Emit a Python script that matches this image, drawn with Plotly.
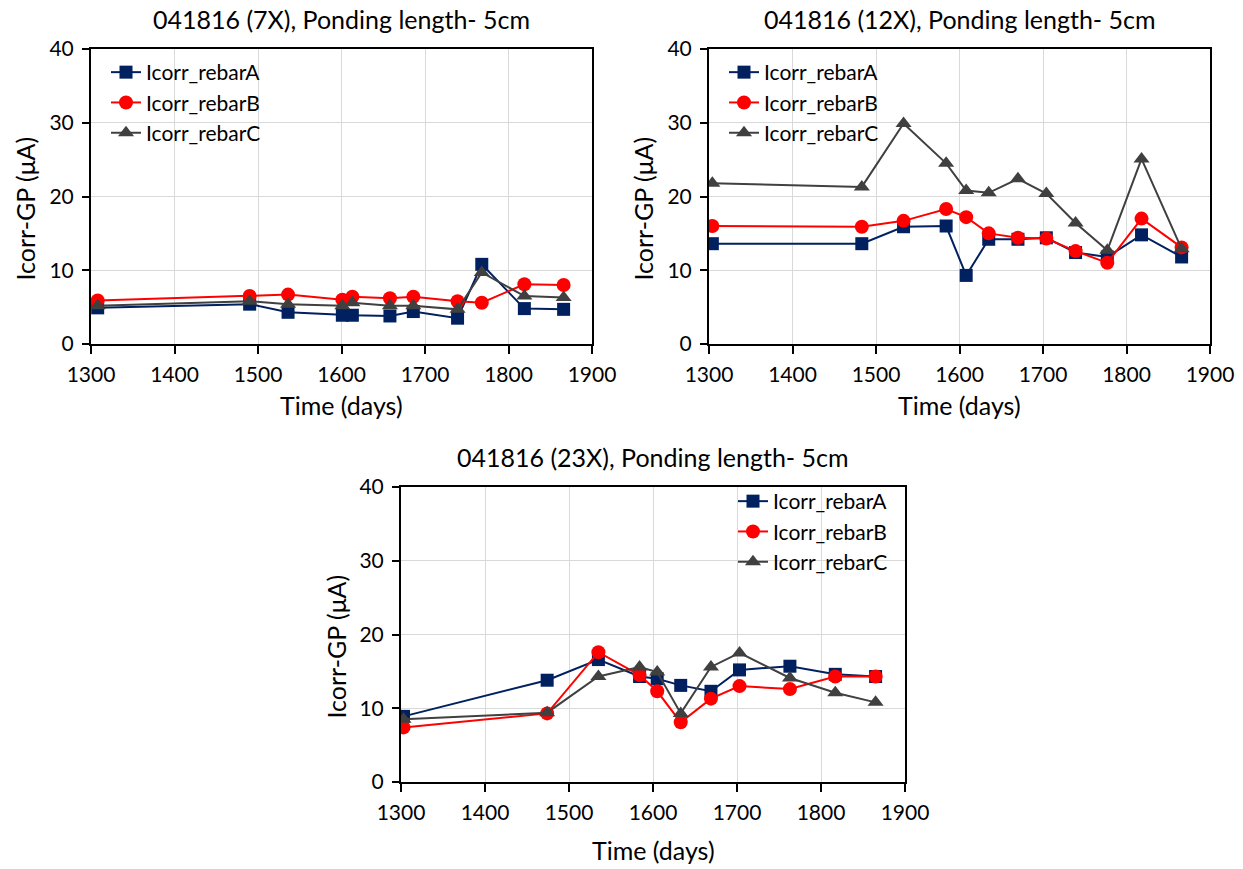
import plotly.graph_objects as go

# ---------------- data ----------------
days_7x = [1308, 1490, 1536, 1601, 1613, 1658, 1686, 1739, 1768, 1819, 1866]
rebarA_7x = [4.9, 5.4, 4.3, 3.9, 3.9, 3.8, 4.4, 3.5, 10.8, 4.8, 4.7]
rebarB_7x = [5.9, 6.5, 6.7, 6.0, 6.4, 6.2, 6.4, 5.8, 5.6, 8.1, 8.0]
rebarC_7x = [5.2, 5.8, 5.4, 5.2, 5.6, 5.2, 5.2, 4.7, 9.7, 6.5, 6.3]

days_12x = [1304, 1483, 1533, 1584, 1608, 1635, 1670, 1704, 1739, 1777, 1818, 1866]
rebarA_12x = [13.6, 13.6, 15.9, 16.0, 9.3, 14.2, 14.2, 14.4, 12.4, 11.8, 14.8, 11.8]
rebarB_12x = [16.0, 15.9, 16.7, 18.3, 17.2, 15.0, 14.4, 14.3, 12.6, 11.0, 17.0, 13.1]
rebarC_12x = [21.8, 21.3, 29.9, 24.5, 20.8, 20.5, 22.4, 20.4, 16.4, 12.7, 25.1, 12.9]

days_23x = [1303, 1474, 1535, 1584, 1605, 1633, 1669, 1703, 1763, 1817, 1865]
rebarA_23x = [8.9, 13.8, 16.6, 14.3, 14.0, 13.1, 12.3, 15.2, 15.7, 14.6, 14.3]
rebarB_23x = [7.4, 9.3, 17.6, 14.5, 12.3, 8.1, 11.3, 13.0, 12.6, 14.3, 14.3]
rebarC_23x = [8.5, 9.4, 14.3, 15.6, 14.9, 9.3, 15.6, 17.5, 14.1, 12.1, 10.8]

series_names = ["Icorr_rebarA", "Icorr_rebarB", "Icorr_rebarC"]
titles = ["041816 (7X), Ponding length- 5cm",
          "041816 (12X), Ponding length- 5cm",
          "041816 (23X), Ponding length- 5cm"]
x_title = "Time (days)"
y_title = "Icorr-GP (μA)"
x_ticks = [1300, 1400, 1500, 1600, 1700, 1800, 1900]
y_ticks = [0, 10, 20, 30, 40]

# ---------------- style ----------------
FONT = "Lato, Carlito, Calibri, sans-serif"
colors = ["#002060", "#FF0000", "#404040"]
symbols = ["square", "circle", "triangle-up"]
msizes = [13, 14, 14]

W, H = 1243, 869
def px_x(v): return v / W
def px_y(v): return 1 - v / H

panels = [
    dict(days=days_7x, vals=[rebarA_7x, rebarB_7x, rebarC_7x],
         left=91, right=592, top=49, bottom=344, leg=(106, 52), xt=61),
    dict(days=days_12x, vals=[rebarA_12x, rebarB_12x, rebarC_12x],
         left=709, right=1210, top=49, bottom=344, leg=(724, 52), xt=61),
    dict(days=days_23x, vals=[rebarA_23x, rebarB_23x, rebarC_23x],
         left=401, right=905, top=487, bottom=782, leg=(733, 481), xt=68),
]

fig = go.Figure()
layout = dict(
    width=W, height=H, margin=dict(l=0, r=0, t=0, b=0, autoexpand=False),
    paper_bgcolor="white", plot_bgcolor="white",
    font=dict(family=FONT, size=18, color="#000000"),
    annotations=[],
)

for i, p in enumerate(panels):
    n = "" if i == 0 else str(i + 1)
    xa, ya = "x" + n, "y" + n
    leg = "legend" + n
    for j in range(3):
        fig.add_trace(go.Scatter(
            x=p["days"], y=p["vals"][j], name=series_names[j],
            mode="lines+markers", xaxis=xa, yaxis=ya,
            line=dict(color=colors[j], width=2),
            marker=dict(symbol=symbols[j], size=msizes[j], color=colors[j]),
            legend=leg, legendgroup=f"{i}-{j}", showlegend=True,
        ))
    axis_common = dict(showgrid=True, gridcolor="#D9D9D9", gridwidth=1,
                       showline=True, linecolor="black", linewidth=2, mirror=True,
                       ticks="outside", tickcolor="black", tickwidth=2,
                       zeroline=False, automargin=False,
                       tickfont=dict(size=21, family=FONT))
    layout["xaxis" + n] = dict(domain=[px_x(p["left"]), px_x(p["right"])], anchor=ya,
                               range=[1300, 1900], tickvals=x_ticks,
                               ticktext=[str(t) for t in x_ticks],
                               ticklen=8, ticklabelstandoff=3, **axis_common)
    layout["yaxis" + n] = dict(domain=[px_y(p["bottom"]), px_y(p["top"])], anchor=xa,
                               range=[0, 40], tickvals=y_ticks,
                               ticktext=[str(t) for t in y_ticks],
                               ticklen=7, ticklabelstandoff=4, **axis_common)
    layout[leg] = dict(x=px_x(p["leg"][0]), y=px_y(p["leg"][1]),
                       xanchor="left", yanchor="top",
                       bgcolor="rgba(0,0,0,0)", borderwidth=0,
                       font=dict(size=21, family=FONT), tracegroupgap=0,
                       itemwidth=30)
    cx = (p["left"] + p["right"]) / 2
    cy = (p["top"] + p["bottom"]) / 2
    # chart title
    layout["annotations"].append(dict(
        text=titles[i], xref="paper", yref="paper",
        x=px_x(cx), y=px_y(p["top"] - 30),
        xanchor="center", yanchor="middle", showarrow=False,
        font=dict(size=25, family=FONT)))
    # x axis title
    layout["annotations"].append(dict(
        text=x_title, xref="paper", yref="paper",
        x=px_x(cx), y=px_y(p["bottom"] + p["xt"]),
        xanchor="center", yanchor="middle", showarrow=False,
        font=dict(size=25, family=FONT)))
    # y axis title
    layout["annotations"].append(dict(
        text=y_title, xref="paper", yref="paper", textangle=-90,
        x=px_x(p["left"] - 66), y=px_y(cy + 12),
        xanchor="center", yanchor="middle", showarrow=False,
        font=dict(size=25, family=FONT)))

fig.update_layout(**layout)
fig.write_html("out.html")
